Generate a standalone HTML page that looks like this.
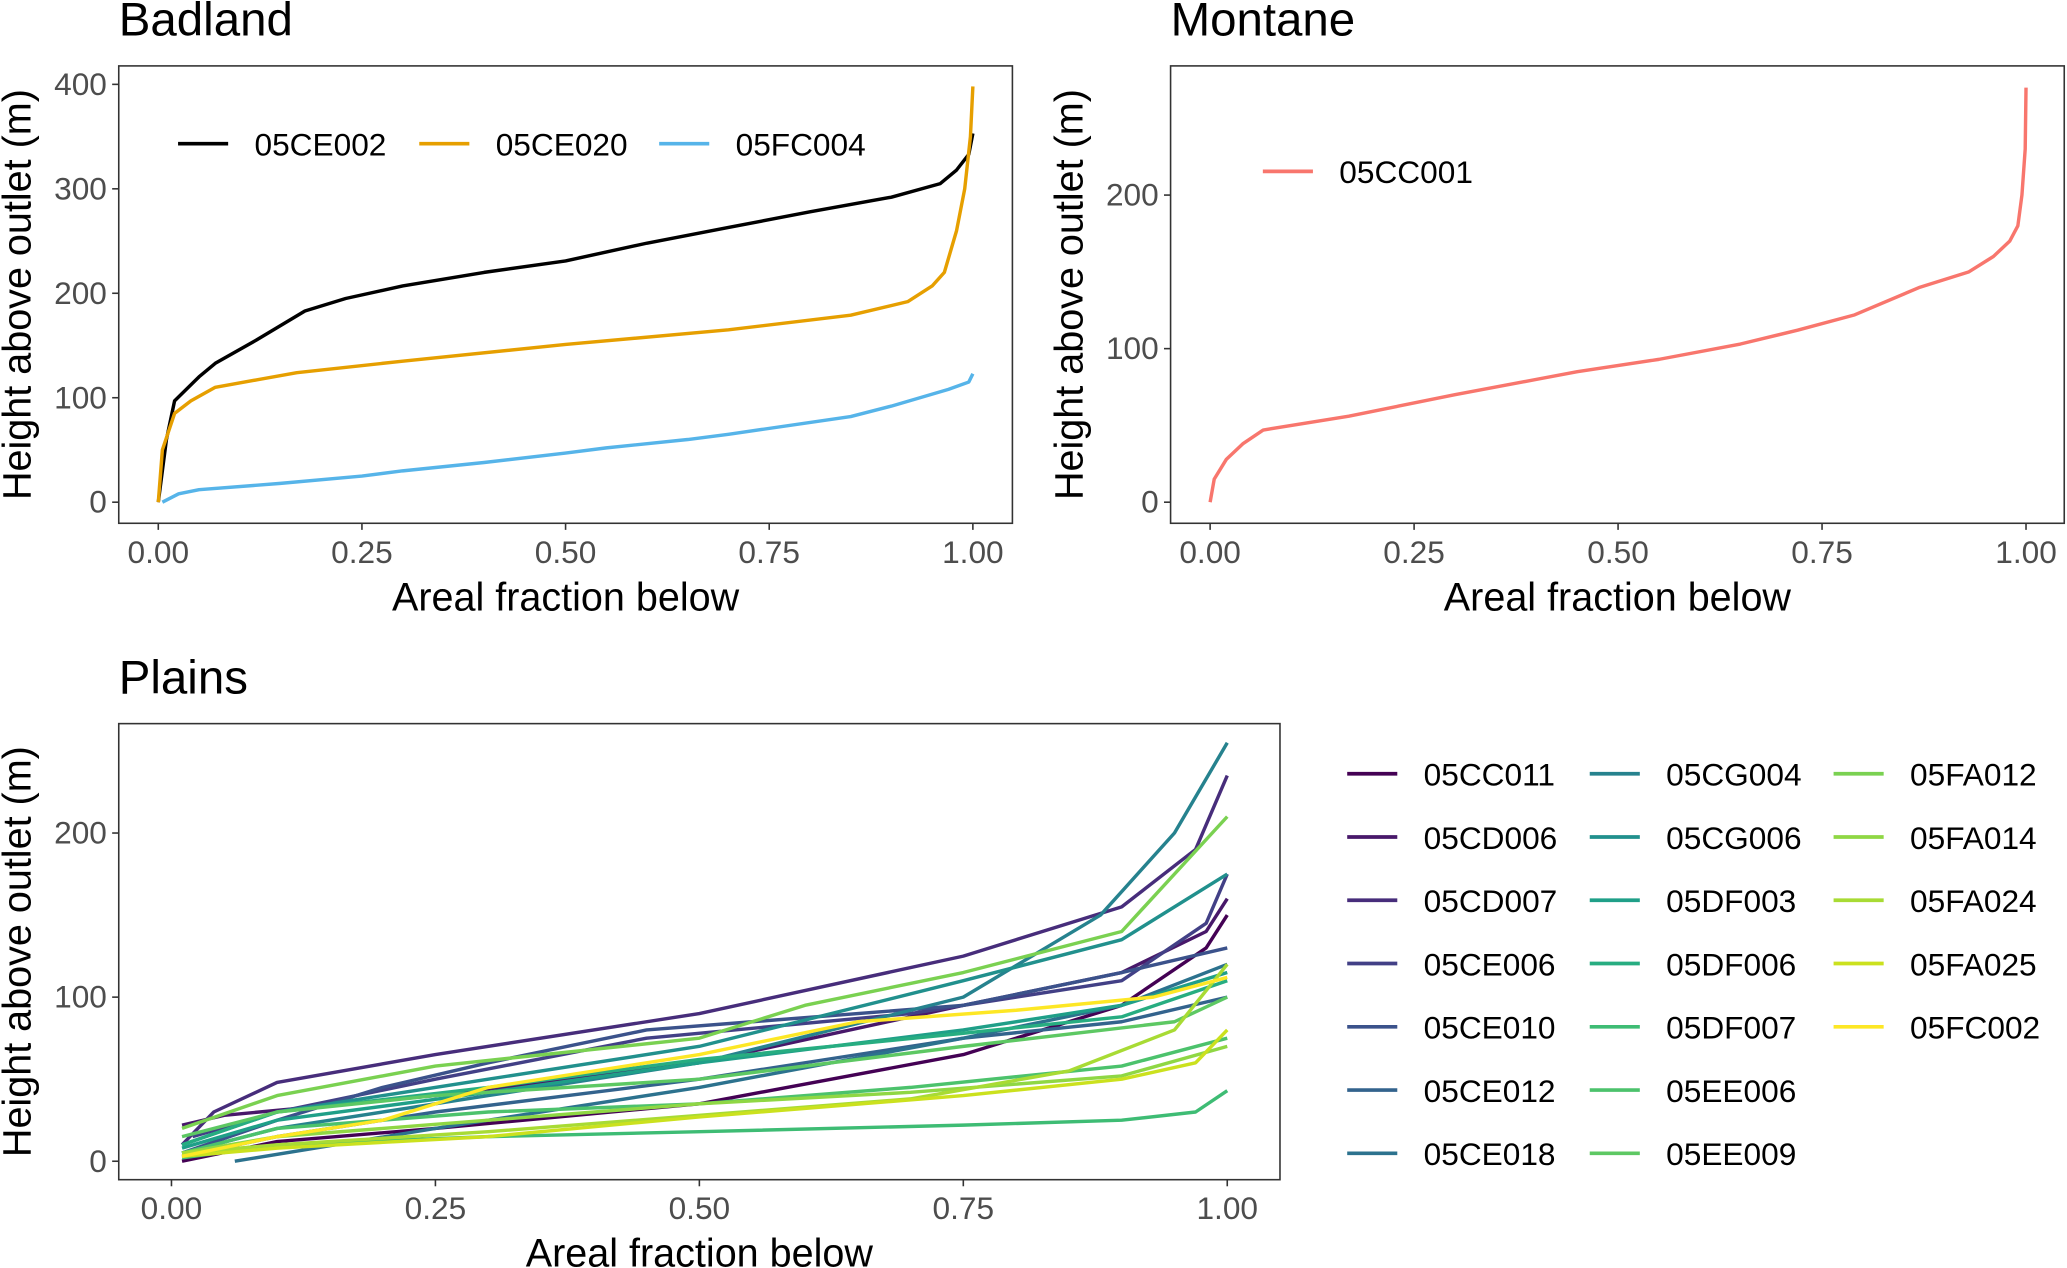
<!DOCTYPE html>
<html><head><meta charset="utf-8">
<style>
html,body{margin:0;padding:0;background:#fff;}
svg{display:block;font-family:"Liberation Sans",sans-serif;}
</style></head>
<body>
<svg id="fig" width="2067" height="1268" viewBox="0 0 1568 962" xmlns="http://www.w3.org/2000/svg">
<rect width="1568" height="962" fill="#fff"/>
</svg>
<script>
// ---------- data ----------
const badlandNames = ["05CE002","05CE020","05FC004"];
const badlandColors = ["#000000","#E69F00","#56B4E9"];
const badlandX = [
 [0,0.01,0.02,0.05,0.07,0.12,0.18,0.23,0.3,0.4,0.5,0.6,0.7,0.8,0.9,0.96,0.98,0.995,1],
 [0,0.005,0.02,0.04,0.07,0.17,0.3,0.5,0.7,0.85,0.92,0.95,0.965,0.98,0.99,0.997,1],
 [0.005,0.025,0.05,0.15,0.25,0.3,0.4,0.5,0.55,0.65,0.7,0.85,0.9,0.97,0.995,1]
];
const badlandY = [
 [0,60,97,120,133,155,183,195,207,220,231,248,263,278,292,305,318,333,353],
 [0,50,85,97,110,124,135,151,165,179,192,207,220,260,300,350,398],
 [0,8,12,18,25,30,38,47,52,60,65,82,92,108,115,123]
];
const montaneNames = ["05CC001"];
const montaneX = [0,0.005,0.02,0.04,0.065,0.17,0.3,0.45,0.55,0.65,0.72,0.79,0.87,0.93,0.96,0.98,0.99,0.995,0.999,1];
const montaneY = [0,15,28,38,47,56,70,85,93,103,112,122,140,150,160,170,180,200,230,270];
const plainsNames = ["05CC011","05CD006","05CD007","05CE006","05CE010","05CE012","05CE018","05CG004","05CG006","05DF003","05DF006","05DF007","05EE006","05EE009","05FA012","05FA014","05FA024","05FA025","05FC002"];
const plainsColors = ["#440154","#48186A","#472D7B","#424086","#3B528B","#33638D","#2C728E","#26828E","#21908D","#1F9F88","#27AD81","#3EBC74","#4CC26C","#5DC863","#7AD151","#8FD744","#A8DB34","#CBE11E","#FDE725"];
const plainsX = [
 [0.01,0.1,0.25,0.5,0.75,0.9,0.98,1],
 [0.01,0.05,0.25,0.5,0.75,0.9,0.98,1],
 [0.01,0.04,0.1,0.25,0.5,0.75,0.9,0.97,1],
 [0.02,0.1,0.25,0.45,0.7,0.9,0.98,1],
 [0.01,0.1,0.2,0.3,0.45,0.55,0.75,0.9,1],
 [0.01,0.1,0.25,0.5,0.75,0.9,1],
 [0.06,0.25,0.5,0.75,0.9,1],
 [0.01,0.1,0.3,0.5,0.75,0.88,0.95,1],
 [0.01,0.1,0.3,0.5,0.75,0.9,1],
 [0.01,0.1,0.3,0.5,0.75,0.9,1],
 [0.01,0.1,0.3,0.5,0.75,0.9,1],
 [0.01,0.1,0.3,0.5,0.75,0.9,0.97,1],
 [0.01,0.1,0.3,0.5,0.7,0.9,1],
 [0.01,0.1,0.25,0.5,0.75,0.95,1],
 [0.01,0.1,0.25,0.5,0.6,0.75,0.9,1],
 [0.01,0.1,0.3,0.5,0.7,0.9,1],
 [0.01,0.1,0.3,0.5,0.7,0.85,0.95,1],
 [0.01,0.1,0.3,0.5,0.75,0.9,0.97,1],
 [0.01,0.1,0.2,0.3,0.5,0.65,0.8,0.93,1]
];
const plainsY = [
 [0,12,20,35,65,95,130,150],
 [22,28,40,60,95,115,140,160],
 [10,30,48,65,90,125,155,190,235],
 [15,30,50,75,90,110,145,175],
 [5,25,45,60,80,85,95,115,130],
 [3,15,30,50,75,85,100],
 [0,20,45,75,95,120],
 [5,20,40,60,100,150,200,255],
 [10,30,50,70,110,135,175],
 [8,25,42,60,80,95,115],
 [10,30,45,62,78,88,110],
 [2,10,15,18,22,25,30,43],
 [5,20,30,35,45,58,75],
 [15,30,40,50,70,85,100],
 [20,40,58,75,95,115,140,210],
 [5,15,25,35,42,52,70],
 [5,10,18,28,38,55,80,120],
 [3,8,15,27,40,50,60,80],
 [3,15,25,45,65,85,92,100,112]
];
const xTicks = [0,0.25,0.5,0.75,1];
const xTickLabels = ["0.00","0.25","0.50","0.75","1.00"];
const badYTicks = [0,100,200,300,400];
const monYTicks = [0,100,200];
const plaYTicks = [0,100,200];

// ---------- drawing ----------
const NS = "http://www.w3.org/2000/svg";
const svg = document.getElementById("fig");
function el(tag, attrs, parent, text){
  const e = document.createElementNS(NS, tag);
  for (const k in attrs) e.setAttribute(k, attrs[k]);
  if (text !== undefined) e.textContent = text;
  (parent || svg).appendChild(e);
  return e;
}
function scale(d0,d1,r0,r1){ return v => r0 + (v-d0)/(d1-d0)*(r1-r0); }

function panel(cfg){
  const g = el("g", {});
  
  
  const xs = scale(0,1,cfg.x0,cfg.x1);
  const ys = scale(0,cfg.yRefVal,cfg.y0,cfg.yRef);
  const t = el("text", {x:cfg.left, y:cfg.titleY, "font-size":36, fill:"#000"}, g, cfg.title);
  
  
  const box = el("rect", {x:cfg.left, y:cfg.top, width:cfg.right-cfg.left, height:cfg.bottom-cfg.top, fill:"none", stroke:"#333", "stroke-width":1.2}, g);
  
  
  xTicks.forEach((v,i)=>{
    const x = xs(v);
    const tk = el("line",{x1:x,x2:x,y1:cfg.bottom,y2:cfg.bottom+5,stroke:"#333","stroke-width":1.2},g);
    
    
    const tl = el("text",{x:x,y:cfg.bottom+30,"font-size":24,fill:"#4d4d4d","text-anchor":"middle"},g,xTickLabels[i]);
    
    
  });
  cfg.yTicks.forEach(v=>{
    const y = ys(v);
    const tk = el("line",{x1:cfg.left-5,x2:cfg.left,y1:y,y2:y,stroke:"#333","stroke-width":1.2},g);
    
    
    const tl = el("text",{x:cfg.left-9,y:y+8,"font-size":24,fill:"#4d4d4d","text-anchor":"end"},g,String(v));
    
    
  });
  const xt = el("text",{x:(cfg.left+cfg.right)/2,y:cfg.bottom+66,"font-size":30,fill:"#000","text-anchor":"middle"},g,"Areal fraction below");
  
  
  const cy = (cfg.top+cfg.bottom)/2;
  const yt = el("text",{x:0,y:0,"font-size":30,fill:"#000","text-anchor":"middle",transform:`translate(${cfg.left-67},${cy}) rotate(-90)`},g,"Height above outlet (m)");
  
  
  cfg.series.forEach(s=>{
    const d = s.x.map((v,i)=>(i?"L":"M")+xs(v).toFixed(2)+","+ys(s.y[i]).toFixed(2)).join(" ");
    const p = el("path",{d:d,fill:"none",stroke:s.color,"stroke-width":2.6,"stroke-linejoin":"round"},g);
    
    
  });
  return g;
}

panel({name:"badland",title:"Badland",left:90,right:768,top:50,bottom:397,titleY:27,
  x0:120,x1:738,y0:381,yRef:64,yRefVal:400,yTicks:badYTicks,
  series:badlandNames.map((n,i)=>({name:n,color:badlandColors[i],x:badlandX[i],y:badlandY[i]}))});
panel({name:"montane",title:"Montane",left:888,right:1566,top:50,bottom:397,titleY:27,
  x0:918,x1:1537,y0:381,yRef:148,yRefVal:200,yTicks:monYTicks,
  series:[{name:montaneNames[0],color:"#F8766D",x:montaneX,y:montaneY}]});
panel({name:"plains",title:"Plains",left:90,right:971,top:549,bottom:895,titleY:526,
  x0:130,x1:931,y0:881,yRef:632,yRefVal:200,yTicks:plaYTicks,
  series:plainsNames.map((n,i)=>({name:n,color:plainsColors[i],x:plainsX[i],y:plainsY[i]}))});

// legends
function legendEntry(x, y, color, label, parent){
  const g = el("g",{},parent);
  
  
  el("line",{x1:x,x2:x+38,y1:y,y2:y,stroke:color,"stroke-width":2.8},g);
  el("text",{x:x+58,y:y+9,"font-size":24,fill:"#000"},g,label);
}
const lb = el("g",{});


const bLegX = [135,318,500];
badlandNames.forEach((n,i)=>legendEntry(bLegX[i],109,badlandColors[i],n,lb));
const lm = el("g",{});


legendEntry(958,130,"#F8766D",montaneNames[0],lm);
const lp = el("g",{});


const pColX = [1022,1206,1391];
plainsNames.forEach((n,i)=>{
  const c = Math.floor(i/7), r = i%7;
  legendEntry(pColX[c], 587 + r*48, plainsColors[i], n, lp);
});
</script>
</body></html>
